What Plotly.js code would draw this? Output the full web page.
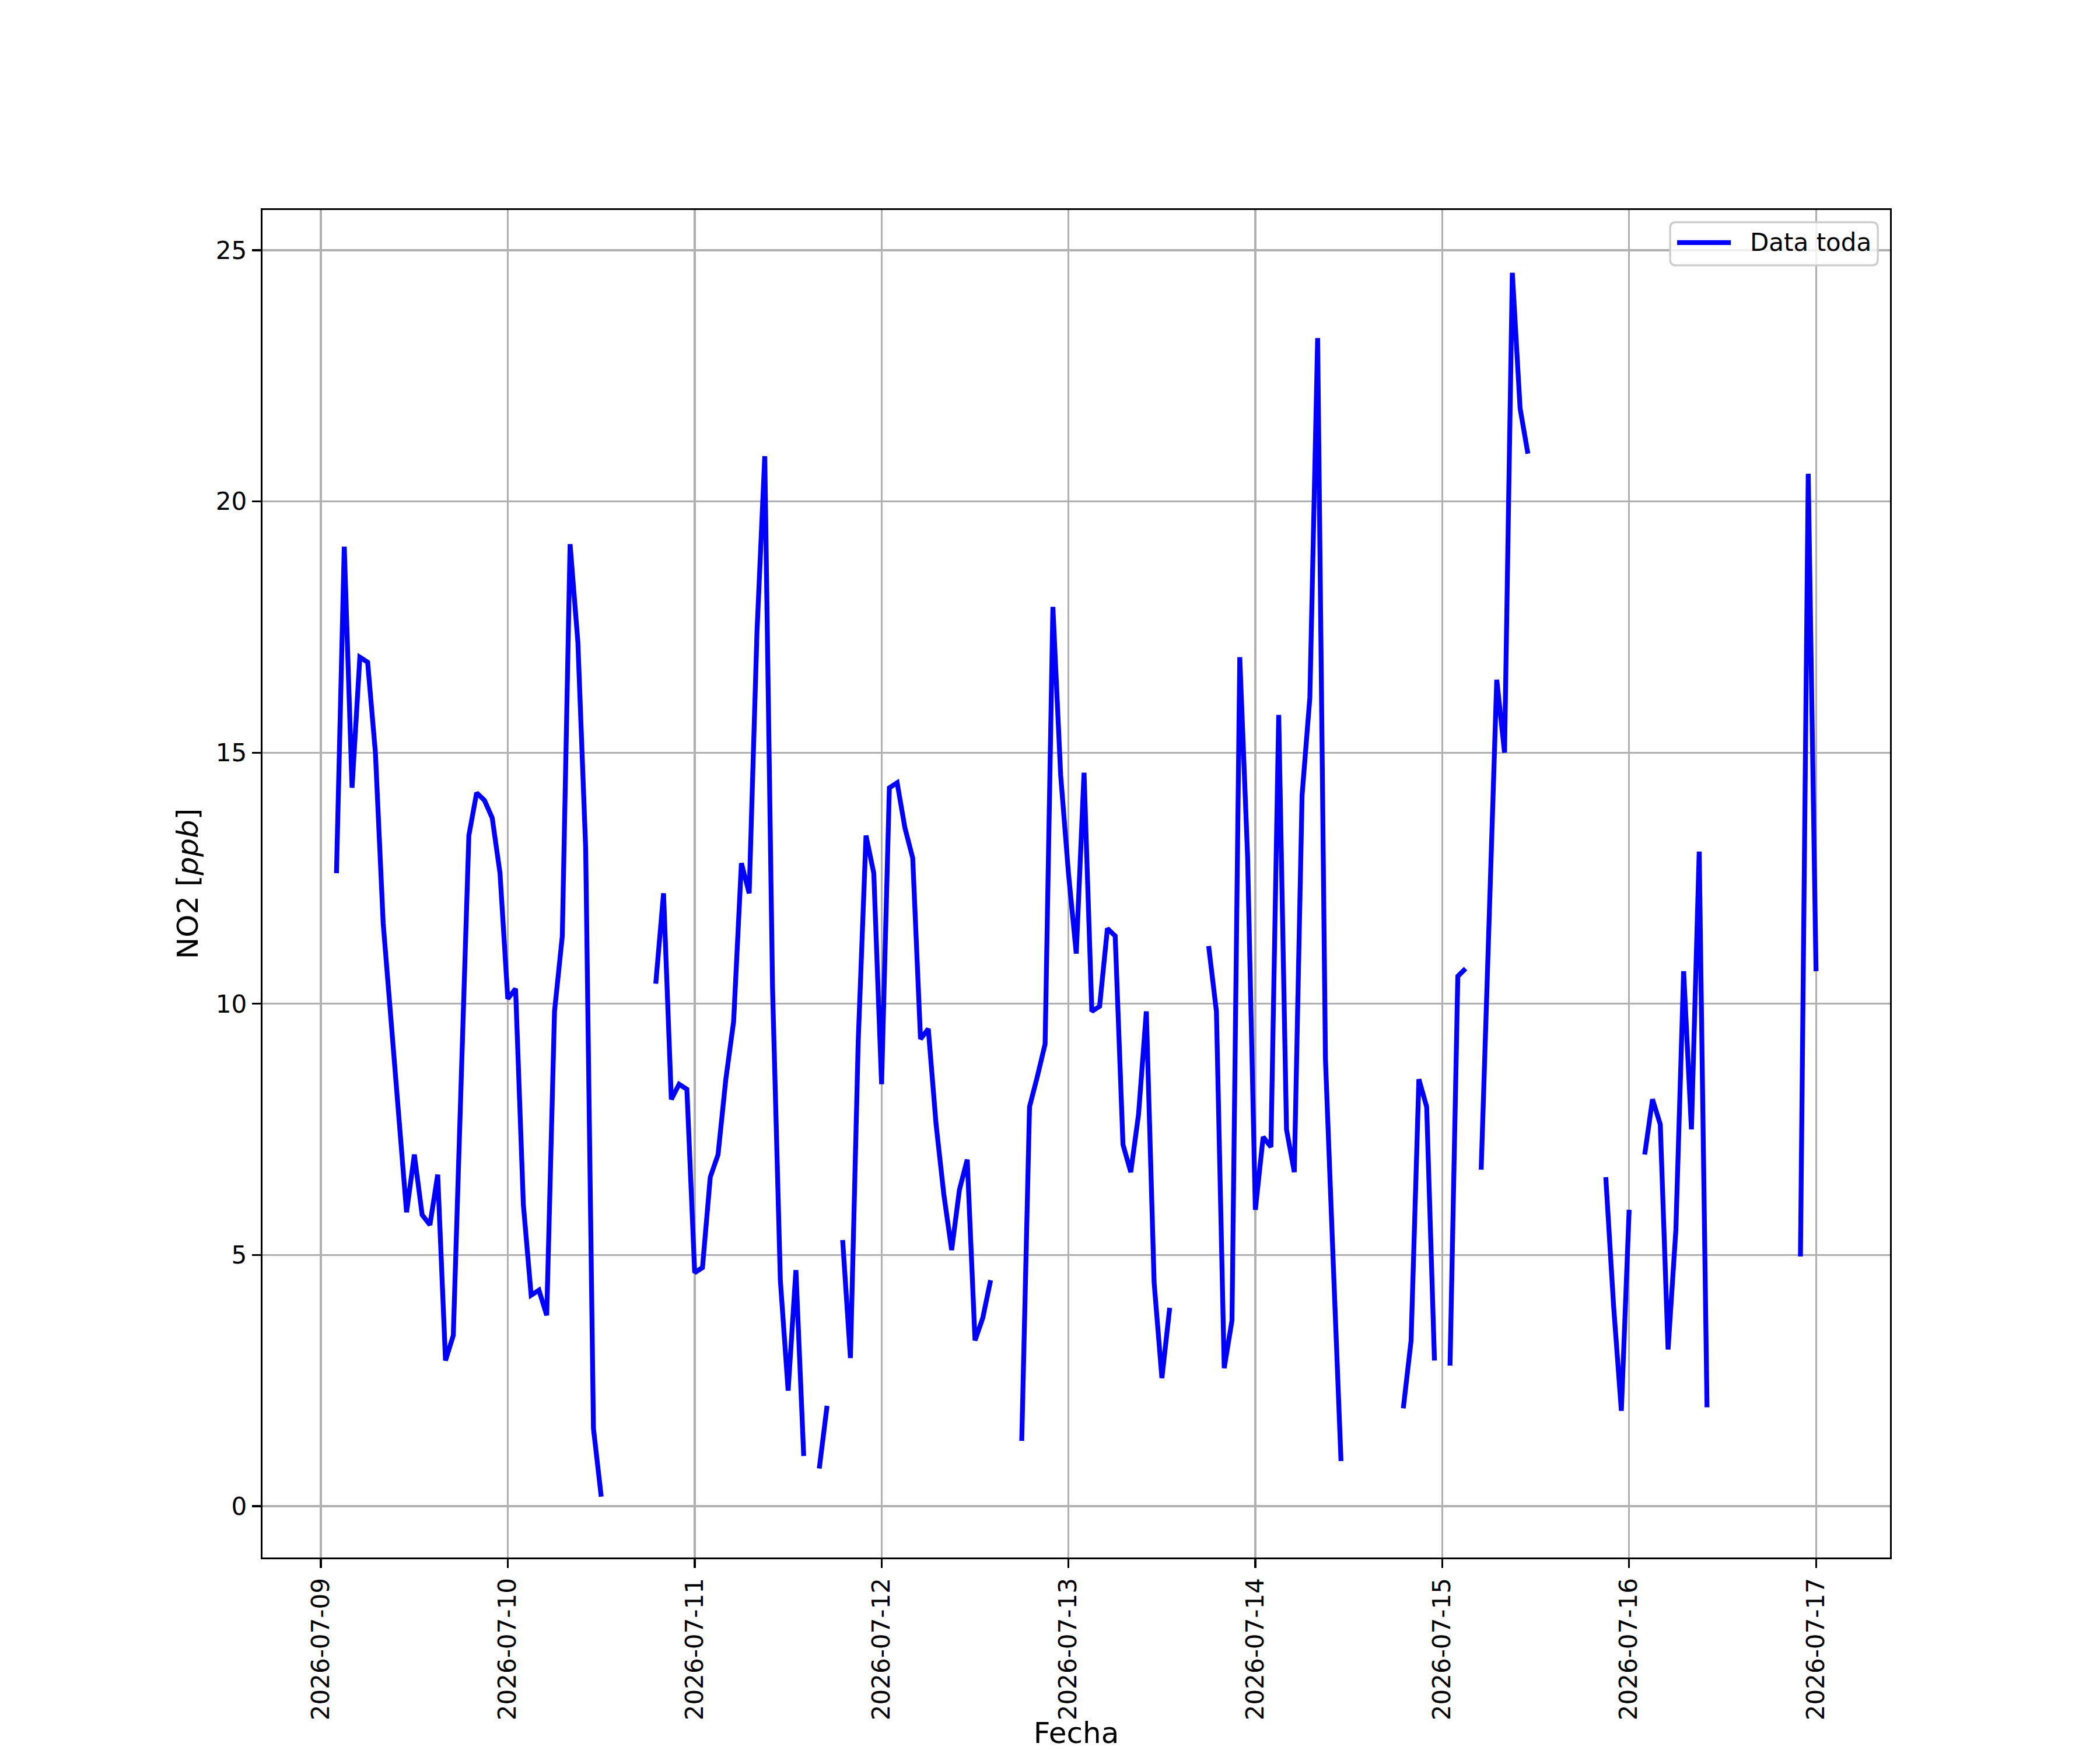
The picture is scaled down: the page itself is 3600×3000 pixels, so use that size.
<!DOCTYPE html>
<html>
<head>
<meta charset="utf-8">
<script src="https://cdn.plot.ly/plotly-3.0.1.min.js"></script>
<style>
  body { margin: 0; background: #fff; }
  #graph { width: 3600px; height: 3000px; }
</style>
</head>
<body>
<div id="graph"></div>
<script>
// hourly NO2 (ppb), one array per day, hours 00..23, null = no data
var days = ["2026-07-09", "2026-07-10", "2026-07-11", "2026-07-12",
            "2026-07-13", "2026-07-14", "2026-07-15", "2026-07-16", "2026-07-17"];

var d0709 = [null, null, 12.6, 19.1, 14.3, 16.9, 16.8, 15.0, 11.6, 9.6, 7.8, 5.85,
             7.0, 5.8, 5.6, 6.6, 2.9, 3.4, 8.4, 13.35, 14.2, 14.05, 13.7, 12.6];
var d0710 = [10.1, 10.3, 6.0, 4.2, 4.3, 3.8, 9.85, 11.35, 19.15, 17.2, 13.1, 1.55,
             0.19, null, null, null, null, null, null, 10.4, 12.2, 8.1, 8.4, 8.3];
var d0711 = [4.65, 4.75, 6.55, 7.0, 8.5, 9.65, 12.8, 12.2, 17.4, 20.9, 10.3, 4.5,
             2.3, 4.7, 1.0, null, 0.75, 2.0, null, 5.3, 2.95, 9.25, 13.35, 12.6];
var d0712 = [8.4, 14.3, 14.4, 13.5, 12.9, 9.3, 9.5, 7.6, 6.2, 5.1, 6.3, 6.9,
             3.3, 3.75, 4.5, null, null, null, 1.3, 7.95, 8.55, 9.2, 17.9, 14.55];
var d0713 = [12.6, 11.0, 14.6, 9.85, 9.95, 11.5, 11.35, 7.2, 6.65, 7.8, 9.85, 4.45,
             2.55, 3.95, null, null, null, null, 11.15, 9.85, 2.75, 3.7, 16.9, 12.95];
var d0714 = [5.9, 7.35, 7.15, 15.75, 7.5, 6.65, 14.15, 16.1, 23.25, 8.9, 4.85, 0.9,
             null, null, null, null, null, null, null, 1.95, 3.3, 8.5, 7.95, 2.9];
var d0715 = [null, 2.8, 10.55, 10.7, null, 6.7, 11.3, 16.45, 15.0, 24.55, 21.85, 20.95,
             null, null, null, null, null, null, null, null, null, 6.55, 4.0, 1.9];
var d0716 = [5.9, null, 7.0, 8.1, 7.6, 3.12, 5.5, 10.65, 7.5, 13.03, 1.97, null,
             null, null, null, null, null, null, null, null, null, null, 4.97, 20.55];
var d0717 = [10.65];

var perDay = [d0709, d0710, d0711, d0712, d0713, d0714, d0715, d0716, d0717];
var serieName = "Data toda";

var fechas = [];
var no2 = [];
for (var i = 0; i < days.length; i++) {
  for (var h = 0; h < perDay[i].length; h++) {
    fechas.push(days[i] + " " + (h < 10 ? "0" + h : h) + ":00");
    no2.push(perDay[i][h]);
  }
}

var font = "DejaVu Sans, sans-serif";
var blue = "#0000ff";
var lw = 8.3;

var trace = {
  x: fechas,
  y: no2,
  type: "scatter",
  mode: "lines",
  name: serieName,
  connectgaps: false,
  showlegend: false,
  line: { color: blue, width: lw }
};

// matplotlib-style legend box (upper right), in paper coords
var lx0 = 0.8649, lx1 = 0.9925, ly0 = 0.9589, ly1 = 0.9909;
var rx = 0.0036, ry = 0.0043;
var legendBox = "M" + (lx0 + rx) + "," + ly1 +
  " L" + (lx1 - rx) + "," + ly1 + " Q" + lx1 + "," + ly1 + " " + lx1 + "," + (ly1 - ry) +
  " L" + lx1 + "," + (ly0 + ry) + " Q" + lx1 + "," + ly0 + " " + (lx1 - rx) + "," + ly0 +
  " L" + (lx0 + rx) + "," + ly0 + " Q" + lx0 + "," + ly0 + " " + lx0 + "," + (ly0 + ry) +
  " L" + lx0 + "," + (ly1 - ry) + " Q" + lx0 + "," + ly1 + " " + (lx0 + rx) + "," + ly1 + " Z";

var layout = {
  width: 3600,
  height: 3000,
  margin: { l: 450, r: 360, t: 360, b: 330 },
  paper_bgcolor: "#ffffff",
  plot_bgcolor: "#ffffff",
  font: { family: font, size: 42, color: "#000000" },
  showlegend: false,
  xaxis: {
    type: "date",
    range: ["2026-07-08 16:30", "2026-07-17 09:30"],
    tick0: "2026-07-09",
    dtick: 86400000,
    tickformat: "%Y-%m-%d",
    tickangle: -90,
    tickfont: { family: font, size: 42 },
    ticks: "outside",
    ticklen: 15,
    tickwidth: 3.3,
    tickcolor: "#000000",
    showgrid: true,
    gridcolor: "#b0b0b0",
    gridwidth: 3.3,
    zeroline: false,
    showline: true,
    linecolor: "#000000",
    linewidth: 3.3,
    mirror: true,
    title: { text: "Fecha", font: { family: font, size: 50 }, standoff: 24 }
  },
  yaxis: {
    range: [-1.02, 25.8],
    tick0: 0,
    dtick: 5,
    tickfont: { family: font, size: 42 },
    ticks: "outside",
    ticklen: 15,
    tickwidth: 3.3,
    tickcolor: "#000000",
    showgrid: true,
    gridcolor: "#b0b0b0",
    gridwidth: 3.3,
    zeroline: false,
    showline: true,
    linecolor: "#000000",
    linewidth: 3.3,
    mirror: true,
    title: { text: "NO2 [<i>ppb</i>]", font: { family: font, size: 50 }, standoff: 15 }
  },
  shapes: [
    {
      type: "path", xref: "paper", yref: "paper", path: legendBox,
      fillcolor: "rgba(255,255,255,0.8)",
      line: { color: "#cccccc", width: 3.3 }
    },
    {
      type: "line", xref: "paper", yref: "paper",
      x0: 0.8692, x1: 0.9022, y0: 0.9758, y1: 0.9758,
      line: { color: blue, width: lw }
    }
  ],
  annotations: [
    {
      xref: "paper", yref: "paper", x: 0.9133, y: 0.9758,
      xanchor: "left", yanchor: "middle", showarrow: false,
      text: serieName, font: { family: font, size: 42, color: "#000000" }
    }
  ]
};

Plotly.newPlot("graph", [trace], layout, { staticPlot: true });
</script>
</body>
</html>
